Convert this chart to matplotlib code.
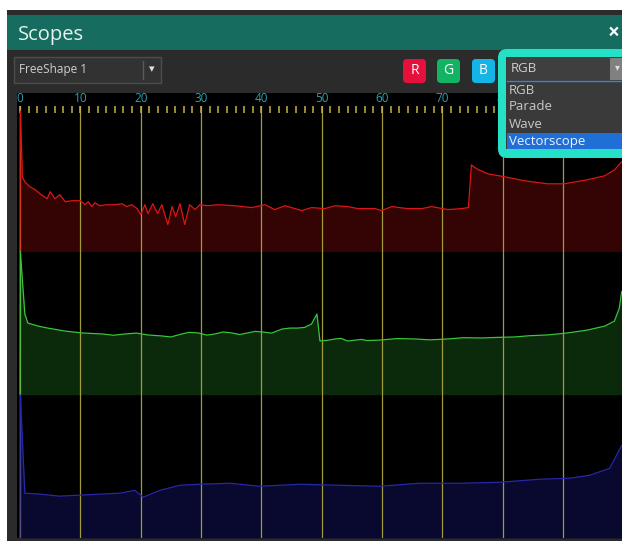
import matplotlib
matplotlib.use("Agg")
import matplotlib.pyplot as plt
from matplotlib.patches import Rectangle, FancyBboxPatch
from matplotlib.ticker import MultipleLocator

plt.rcParams['font.family'] = ['Open Sans', 'DejaVu Sans']

# waveform data, x in percent of image width, value in percent of band height
red_x = [0, 0.05, 0.4, 0.8, 1.65, 2.5, 3.3, 4.5, 5.0, 5.8, 6.6, 7.5, 8.6, 10.0,
         10.8, 11.3, 11.9, 12.4, 13.2, 14.4, 15.7, 16.9, 17.7, 18.5, 19.4, 20.0,
         20.7, 21.2, 22.0, 22.8, 23.5, 24.5, 25.2, 25.8, 26.5, 27.3, 28.1, 29.0,
         29.8, 31.1, 32.8, 35.6, 38.4, 40.6, 42.2, 43.9, 46.7, 48.3, 50.5, 52.2,
         54.3, 56.0, 58.8, 59.9, 61.6, 64.2, 66.6, 68.2, 70.9, 73.2, 74.3, 74.8,
         75.7, 77.5, 80.3, 83.6, 87.4, 90.2, 94.0, 96.9, 98.5, 99.7]
red_v = [0, 98, 52, 48.6, 45.1, 43.1, 40.3, 36.8, 41.7, 36.8, 39.6, 34.7, 35.4, 35.4,
         32.6, 34.7, 31.3, 34.0, 31.9, 32.6, 32.6, 33.3, 31.3, 32.6, 29.9, 25.7,
         32.6, 26.4, 33.3, 26.4, 32.6, 18.8, 31.3, 24.3, 33.3, 18.8, 32.6, 29.2,
         32.6, 31.9, 32.6, 31.9, 30.6, 32.6, 29.2, 31.9, 28.5, 30.6, 29.9, 31.9,
         31.3, 29.9, 29.9, 28.5, 31.3, 29.9, 29.9, 31.3, 29.2, 29.9, 30.6, 60.4,
         57.6, 54.2, 52.1, 49.3, 47.2, 47.2, 50.0, 52.8, 56.9, 62.5]

green_x = [0, 0.05, 0.8, 1.3, 3.0, 4.6, 7.5, 10.3, 13.6, 15.5, 17.4, 19.3, 21.2,
           23.5, 25.0, 26.8, 28.0, 29.5, 31.0, 32.3, 33.7, 35.1, 36.4, 37.7, 39.0,
           40.1, 41.7, 43.4, 44.7, 46.0, 47.2, 48.3, 49.2, 49.7, 51.0, 52.2, 53.2,
           54.3, 56.6, 57.5, 59.9, 62.5, 65.4, 68.0, 70.9, 73.5, 76.5, 79.0, 82.0,
           84.5, 87.4, 90.7, 94.0, 96.9, 98.5, 99.3, 99.7]
green_v = [0, 100, 56.3, 50, 47.9, 46.5, 44.4, 43.1, 42.4, 41.5, 42.4, 43.0, 41.7,
           41.0, 40.3, 42.4, 43.5, 43.1, 41.6, 42.4, 43.8, 43.1, 42.0, 43.1, 44.2,
           43.8, 43.0, 45.8, 46.5, 46.5, 47.0, 49.3, 56.3, 37.5, 38.0, 38.9, 39.3,
           37.5, 38.6, 37.8, 38.2, 39.2, 38.9, 38.3, 38.9, 39.8, 39.6, 40.0, 40.3,
           41.2, 41.7, 43.1, 45.1, 47.9, 51.4, 60.4, 72]

blue_x = [0, 0.05, 0.8, 3.3, 6.6, 9.9, 13.2, 16.6, 19.0, 20.4, 23.2, 26.5, 29.8,
          34.8, 39.7, 46.4, 53.0, 59.6, 66.2, 72.8, 79.5, 86.1, 91.1, 94.4, 97.7, 99.7]
blue_v = [0, 100, 31.3, 30.6, 29.2, 29.9, 30.6, 31.3, 33.3, 28.5, 33.3, 36.8, 37.5,
          38.2, 36.1, 37.5, 36.8, 36.1, 38.2, 38.2, 38.9, 41.0, 41.7, 43.8, 48.6, 64.6]

ruler_ticks = [0, 10, 20, 30, 40, 50, 60, 70, 80, 90]
modes = ['RGB', 'Parade', 'Wave', 'Vectorscope']

W, H = 622, 541
fig = plt.figure(figsize=(W / 100, H / 100), dpi=100, facecolor='white')


def px_axes(x0, y0, x1, y1, **kw):
    return fig.add_axes([x0 / W, 1 - y1 / H, (x1 - x0) / W, (y1 - y0) / H], **kw)


def ui_layer(z):
    a = px_axes(0, 0, W, H, zorder=z)
    a.set_xlim(0, W)
    a.set_ylim(H, 0)
    a.axis('off')
    a.patch.set_alpha(0)
    return a


def box(a, x0, y0, x1, y1, fc, r=0, ec='none', lw=0):
    if r:
        p = FancyBboxPatch((x0, y0), x1 - x0, y1 - y0,
                           boxstyle=f'round,pad=0,rounding_size={r}',
                           fc=fc, ec=ec, lw=lw)
    else:
        p = Rectangle((x0, y0), x1 - x0, y1 - y0, fc=fc, ec=ec, lw=lw)
    a.add_patch(p)


# window chrome
bg = ui_layer(0)
box(bg, 7, 10, W + 5, H + 5, '#2b2b2b')
box(bg, 7, 15, W + 5, 50, '#166d5f')
box(bg, 17, 93, W + 5, 538, 'black')
bg.text(18, 35, 'Scopes', color='#e6f3ef', fontsize=14.5, va='center', ha='left')
bg.text(614, 33, '\u00d7', color='white', fontsize=15, fontweight='bold',
        va='center', ha='center')

box(bg, 14, 57, 161, 83, '#323232', ec='#4c4c4c', lw=1)
bg.plot([143, 143], [61, 79], color='#5a5a5a', lw=1)
bg.text(19, 70, 'FreeShape 1', color='#cfcfcf', fontsize=8.5, va='center')
bg.text(152, 70, '\u25be', color='#dddddd', fontsize=8, va='center', ha='center')

for label, x0, col in [('R', 403, '#e5103c'), ('G', 437, '#12b463'), ('B', 472, '#14b4e6')]:
    box(bg, x0, 59, x0 + 23, 83, col, r=4)
    bg.text(x0 + 11.5, 71, label, color='white', fontsize=10, va='center', ha='center')

# waveform area
ax = px_axes(17, 106, W, 538, zorder=1)
ax.set_facecolor('black')
ax.set_xlim(-0.5, 99.75)
ax.set_ylim(0, 301.5)
for s in ax.spines.values():
    s.set_visible(False)

ax.xaxis.tick_top()
ax.set_xticks(ruler_ticks)
ax.set_xticklabels([str(t) for t in ruler_ticks])
ax.xaxis.set_minor_locator(MultipleLocator(10 / 7))
ax.tick_params(axis='x', which='both', direction='in', top=True, bottom=False,
               labeltop=True, labelbottom=False, length=5, width=1.1,
               color='#c9b04e', labelcolor='#2e9fb2', labelsize=8.5, pad=0.5)
ax.set_yticks([])
ax.grid(axis='x', which='major', color='#a09a38', lw=0.9, zorder=1.5)

channels = [
    (red_x, red_v, 200, '#dc1616', '#340404'),
    (green_x, green_v, 100, '#3cc43c', '#0b2a0b'),
    (blue_x, blue_v, 0, '#2828aa', '#09092f'),
]
for xs, vs, base, line_col, fill_col in channels:
    ys = [base + v for v in vs]
    ax.fill_between(xs, base, ys, color=fill_col, lw=0, zorder=1)
    ax.plot(xs, ys, color=line_col, lw=0.9, zorder=2)

# mode dropdown overlay
ov = ui_layer(3)
box(ov, 498, 49, W + 12, 158, '#24e0c6', r=9)
box(ov, 506, 57, W + 5, 149, '#3a3a3a')
box(ov, 507, 58, 610, 80, '#3f3f3f')
box(ov, 610, 58, W + 5, 80, '#808080')
ov.text(511, 69, 'RGB', color='#cfcfcf', fontsize=9.5, va='center')
ov.text(617, 68, '\u25be', color='#dddddd', fontsize=7, va='center', ha='center')
ov.plot([507, W], [81, 81], color='#3f7fd0', lw=1)
item_y = [90, 107, 124, 141]
box(ov, 507, 133, W + 5, 149, '#1f6fd6')
for name, y in zip(modes, item_y):
    col = '#eef3ff' if name == 'Vectorscope' else '#c8c8c8'
    ov.text(509, y, name, color=col, fontsize=9.5, va='center')

fig.savefig('out.png', dpi=100, facecolor=fig.get_facecolor())
